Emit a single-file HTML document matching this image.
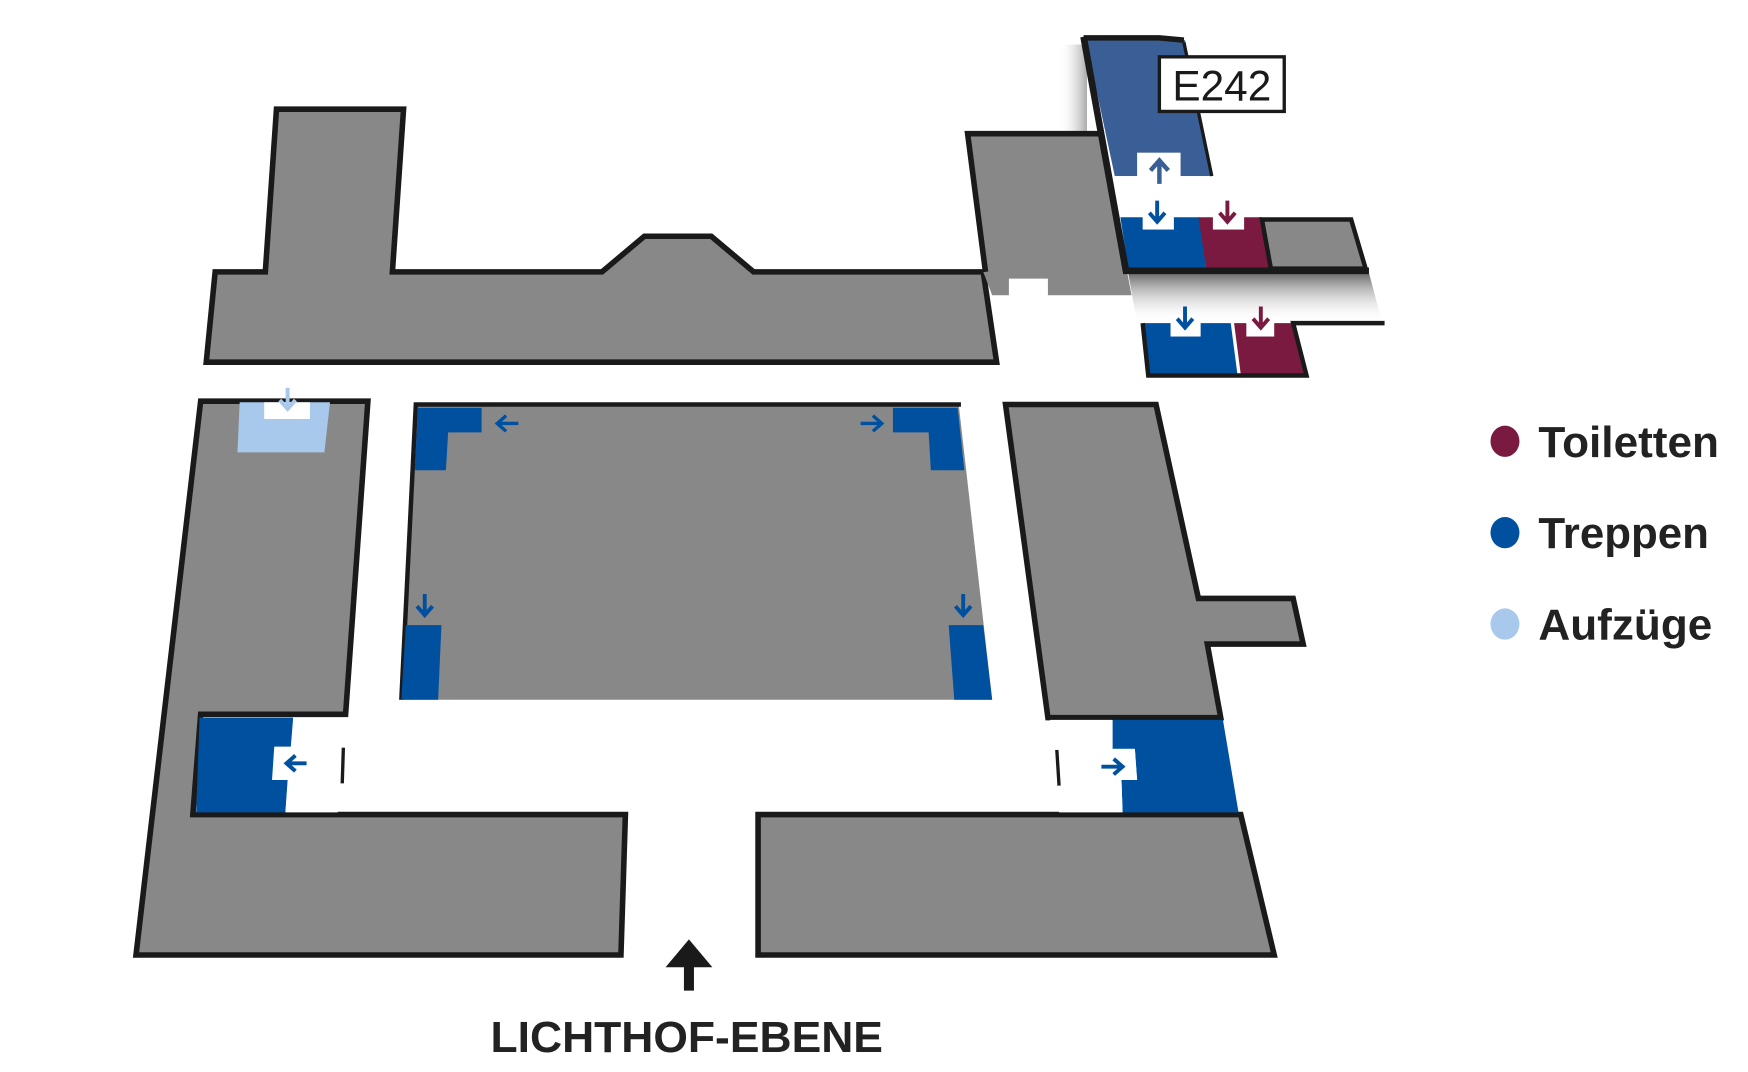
<!DOCTYPE html>
<html><head><meta charset="utf-8"><style>
html,body{margin:0;padding:0;background:#fff;}
svg{display:block;}
text{font-family:"Liberation Sans",sans-serif;}
</style></head><body>
<svg width="1748" height="1072" viewBox="0 0 1568 962" preserveAspectRatio="none" xmlns="http://www.w3.org/2000/svg">
<defs>
<linearGradient id="sh" x1="0" y1="0" x2="0" y2="1">
<stop offset="0" stop-color="#444" stop-opacity="0.8"/><stop offset="1" stop-color="#fff" stop-opacity="0"/>
</linearGradient>
<linearGradient id="shl" x1="1" y1="0" x2="0" y2="0">
<stop offset="0" stop-color="#555" stop-opacity="0.5"/><stop offset="1" stop-color="#fff" stop-opacity="0"/>
</linearGradient>
<g id="ad"><path d="M0,-10 V8 M-7,1 L0,9 L7,1" stroke-width="3.5" fill="none"/></g>
</defs>
<g stroke="#1a1a1a" stroke-width="5" stroke-linejoin="miter">
<polygon fill="#888" points="248,98 362,98 352,244 540,244 578,212 638,212 676,244 882,244 894,325 185,325 193,244 238,244"/>
</g>
<rect x="950" y="40" width="25" height="80" fill="url(#shl)"/>
<polygon fill="url(#sh)" points="1012,245 1228,245 1240,290 1020,290"/>
<polygon fill="#888" points="868,120 988,120 1015,265 940,265 940,250 905,250 905,265 890,265 882,244"/>
<polyline points="884,244 868,120 988,120" fill="none" stroke="#1a1a1a" stroke-width="5"/>
<polygon fill="#3a5f96" points="974,36 1063,36 1087,158 1000,158"/>
<polygon fill="#fff" points="1000,158 1090,158 1090,197 1005,197"/>
<polygon fill="#0050a0" points="1005,195 1076,195 1082,241 1012,241"/>
<polygon fill="#7a1a40" points="1075,195 1132,195 1142,241 1082,241"/>
<polygon fill="#888" stroke="#1a1a1a" stroke-width="4" points="1132,197 1212,197 1225,241 1140,241"/>
<polyline points="972,34 1040,34 1062,36" fill="none" stroke="#1a1a1a" stroke-width="5"/>
<polyline points="972,33 1010,243 1228,243" fill="none" stroke="#1a1a1a" stroke-width="6"/>
<line x1="1062" y1="38" x2="1087" y2="158" stroke="#1a1a1a" stroke-width="3"/>
<rect x="1020" y="137" width="39" height="25" fill="#fff"/>
<path d="M1040,165 V145 M1032,153 L1040,144 L1048,153" stroke="#3a5f96" stroke-width="4" fill="none"/>
<rect x="1025" y="192" width="28" height="14" fill="#fff"/>
<use href="#ad" x="1038" y="190" stroke="#0050a0"/>
<rect x="1088" y="192" width="28" height="14" fill="#fff"/>
<use href="#ad" x="1101" y="190" stroke="#7a1a40"/>
<rect x="1040" y="51" width="112" height="49" fill="#fff" stroke="#1a1a1a" stroke-width="3"/>
<text x="1096" y="90" font-size="38" text-anchor="middle" fill="#1a1a1a">E242</text>
<polygon fill="#0050a0" points="1025,290 1104,290 1110,336 1030,336"/>
<polygon fill="#7a1a40" points="1107,290 1160,290 1170,336 1113,336"/>
<polyline points="1025,290 1030,337 1172,337 1160,290 1242,290" fill="none" stroke="#1a1a1a" stroke-width="4"/>
<rect x="1050" y="286" width="27" height="16" fill="#fff"/>
<use href="#ad" x="1063" y="285" stroke="#0050a0"/>
<rect x="1118" y="286" width="25" height="16" fill="#fff"/>
<use href="#ad" x="1131" y="285" stroke="#7a1a40"/>
<g stroke="#1a1a1a" stroke-width="5">
<polygon fill="#888" points="180,360 330,360 310,641 180,641 173,731 561,731 557,857 122,857"/>
<polygon fill="#888" points="902,363 1037,363 1075,537 1160,537 1169,578 1083,578 1095,644 940,644"/>
<polygon fill="#888" points="680,731 1113,731 1143,857 680,857"/>
</g>
<polygon fill="#888" points="373,363 860,363 890,628 360,628"/>
<polyline points="360,628 373,363 862,363" fill="none" stroke="#1a1a1a" stroke-width="4"/>
<polygon fill="#0050a0" points="179,644 263,644 256,729 176,729"/>
<polygon fill="#fff" points="263,644 308,644 303,729 256,729 258,700 244,700 246,670 262,670"/>
<path d="M275,685 H258 M265,678 L257,685 L265,692" stroke="#0050a0" stroke-width="3.5" fill="none"/>
<line x1="308" y1="671" x2="307" y2="703" stroke="#1a1a1a" stroke-width="3"/>
<polygon fill="#0050a0" points="998,646 1097,646 1111,729 1007,729 1006,700 1020,700 1018,672 998,672"/>
<polygon fill="#fff" points="942,646 998,646 998,672 1018,672 1020,700 1006,700 1007,729 950,729"/>
<path d="M988,688 H1006 M999,681 L1007,688 L999,695" stroke="#0050a0" stroke-width="3.5" fill="none"/>
<line x1="948" y1="673" x2="950" y2="705" stroke="#1a1a1a" stroke-width="3"/>
<polygon fill="#a8c8ec" points="215,361 296,361 291,406 213,406"/>
<rect x="237" y="361" width="41" height="15" fill="#fff"/>
<use href="#ad" x="258" y="358" stroke="#a8c8ec"/>
<polygon fill="#0050a0" points="375,366 432,366 432,388 402,388 400,422 372,422"/>
<polygon fill="#0050a0" points="801,366 859,366 865,422 835,422 833,388 801,388"/>
<path d="M465,380 H447 M454,373 L446,380 L454,387" stroke="#0050a0" stroke-width="3" fill="none"/>
<path d="M772,380 H790 M783,373 L791,380 L783,387" stroke="#0050a0" stroke-width="3" fill="none"/>
<polygon fill="#0050a0" points="364,561 396,561 393,628 360,628"/>
<polygon fill="#0050a0" points="851,561 882,561 890,628 856,628"/>
<use href="#ad" x="381" y="543" stroke="#0050a0"/>
<use href="#ad" x="864" y="543" stroke="#0050a0"/>
<path d="M618,889 V858" stroke="#1a1a1a" stroke-width="9" fill="none"/>
<polygon points="597,868 618,843 639,868" fill="#1a1a1a"/>
<text x="616" y="944" font-size="39" font-weight="bold" text-anchor="middle" fill="#222" textLength="352" lengthAdjust="spacingAndGlyphs">LICHTHOF-EBENE</text>
<ellipse cx="1350" cy="396" rx="13" ry="14" fill="#7a1a40"/>
<ellipse cx="1350" cy="478" rx="13" ry="14" fill="#0050a0"/>
<ellipse cx="1350" cy="560" rx="13" ry="14" fill="#a8c8ec"/>
<text x="1380" y="410" font-size="39" font-weight="bold" fill="#222" textLength="162" lengthAdjust="spacingAndGlyphs">Toiletten</text>
<text x="1380" y="492" font-size="39" font-weight="bold" fill="#222" textLength="153" lengthAdjust="spacingAndGlyphs">Treppen</text>
<text x="1380" y="574" font-size="39" font-weight="bold" fill="#222" textLength="156" lengthAdjust="spacingAndGlyphs">Aufzüge</text>
</svg>
</body></html>
